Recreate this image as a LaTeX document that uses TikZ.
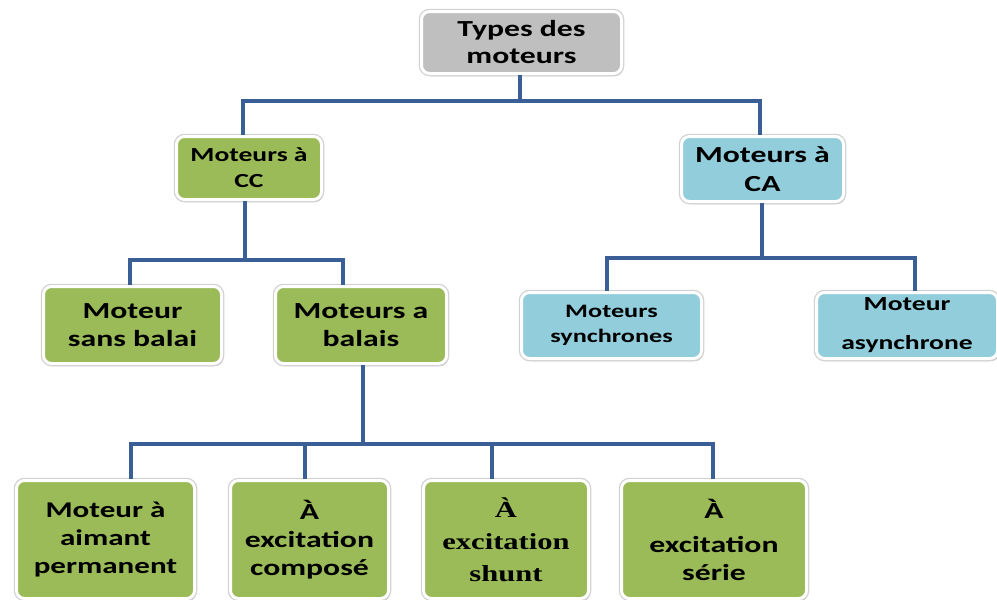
\documentclass[tikz,border=0pt]{standalone}
\usepackage{fontspec}
\newfontfamily\calib{Carlito}[FakeStretch=1.38]
\newfontfamily\cambr{Liberation Serif}[FakeStretch=1.33]
\usetikzlibrary{shadows}

\definecolor{vertbox}{RGB}{155,187,89}
\definecolor{bleubox}{RGB}{146,205,220}
\definecolor{grisbox}{RGB}{191,191,191}
\definecolor{lienbleu}{RGB}{57,95,150}

\tikzset{
    boite/.style={draw=white, line width=3pt, rounded corners=8pt, inner sep=0pt, align=center,
        drop shadow={shadow xshift=1.5pt, shadow yshift=-2.5pt, opacity=0.3, fill=black},
        preaction={draw=black!18, line width=5.5pt}},
    vert/.style={boite, fill=vertbox},
    bleu/.style={boite, fill=bleubox},
    gris/.style={boite, fill=grisbox},
    taille/.style 2 args={font=\calib\bfseries\fontsize{#1}{#2}\selectfont},
    lien/.style={draw=lienbleu, line width=3.5pt}
}

\begin{document}
\begin{tikzpicture}[x=1pt, y=-1pt]
        \useasboundingbox (0,0) rectangle (997,600);

        % boites
        \node[gris, minimum width=200, minimum height=62, taille={23}{27}] (types) at (521.5,42.5) {Types des\\moteurs};

        \node[vert, minimum width=145, minimum height=63, taille={20}{26}] (cc) at (249,168) {Moteurs à\\CC};
        \node[bleu, minimum width=162, minimum height=65, taille={23}{29}] (ca) at (762.5,169) {Moteurs à\\CA};

        \node[vert, minimum width=178, minimum height=77, taille={23}{28}] (sansbalai) at (132.5,325) {Moteur\\sans balai};
        \node[vert, minimum width=171, minimum height=77, taille={23}{28}] (balais) at (361,325) {Moteurs a\\balais};
        \node[bleu, minimum width=180, minimum height=66, taille={19}{25}] (sync) at (611.5,325.5) {Moteurs\\synchrones};
        \node[bleu, minimum width=181, minimum height=66, taille={20}{25}] (async) at (907,325.5) {Moteur\\[14pt]asynchrone};

        \node[vert, minimum width=178, minimum height=118, taille={22.5}{28}] (aimant) at (105.5,539.5) {Moteur à\\aimant\\permanent};
        \node[vert, minimum width=158, minimum height=118, taille={23}{28}] (compose) at (309.5,539.5) {À\\excitation\\composé};
        \node[vert, minimum width=165, minimum height=118, font=\cambr\bfseries\fontsize{23}{32}\selectfont] (shunt) at (506,539.5) {À\\excitation\\shunt};
        \node[vert, minimum width=185, minimum height=118, taille={23}{28}] (serie) at (714,539.5) {À\\[6pt]excitation\\série};

        % bus
        \coordinate (bus1) at (0,101);
        \coordinate (bus2) at (0,260);
        \coordinate (bus3) at (0,258);
        \coordinate (bus4) at (0,444);

        % liens
        \draw[lien] ([xshift=-1.5pt]types.south) |- ([xshift=-6pt]cc.north |- bus1) -- ([xshift=-6pt]cc.north);
        \draw[lien] ([xshift=-1.5pt]types.south) |- ([xshift=-2.5pt]ca.north |- bus1) -- ([xshift=-2.5pt]ca.north);

        \draw[lien] ([xshift=-4pt]cc.south) |- ([xshift=-2.5pt]sansbalai.north |- bus2) -- ([xshift=-2.5pt]sansbalai.north);
        \draw[lien] ([xshift=-4pt]cc.south) |- ([xshift=-18pt]balais.north |- bus2) -- ([xshift=-18pt]balais.north);

        \draw[lien] ([xshift=-0.5pt]ca.south) |- ([xshift=-4.5pt]sync.north |- bus3) -- ([xshift=-4.5pt]sync.north);
        \draw[lien] ([xshift=-0.5pt]ca.south) |- ([xshift=8pt]async.north |- bus3) -- ([xshift=8pt]async.north);

        \draw[lien] ([xshift=2pt]balais.south) |- ([xshift=25.5pt]aimant.north |- bus4) -- ([xshift=25.5pt]aimant.north);
        \draw[lien] ([xshift=2pt]balais.south) |- ([xshift=-4.5pt]compose.north |- bus4) -- ([xshift=-4.5pt]compose.north);
        \draw[lien] ([xshift=2pt]balais.south) |- ([xshift=-14pt]shunt.north |- bus4) -- ([xshift=-14pt]shunt.north);
        \draw[lien] ([xshift=2pt]balais.south) |- ([xshift=-1pt]serie.north |- bus4) -- ([xshift=-1pt]serie.north);

    \end{tikzpicture}
\end{document}
